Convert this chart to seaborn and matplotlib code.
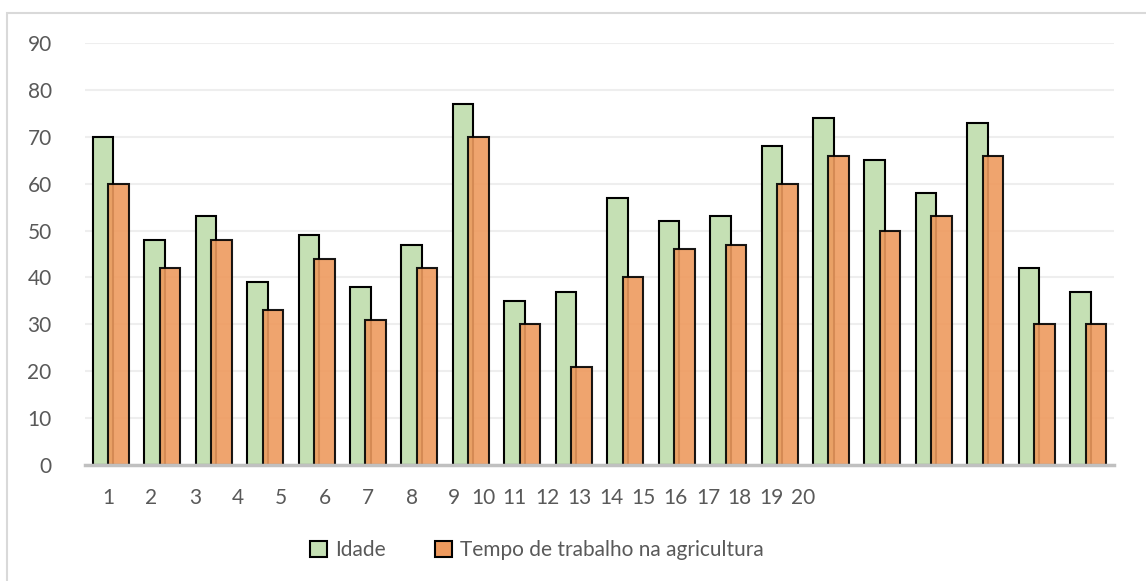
import matplotlib
matplotlib.use("Agg")
import matplotlib.pyplot as plt
import matplotlib.patches as mpatches
import numpy as np
import pandas as pd
import seaborn as sns

# Respondent ages and years of farm work
respondentes = [str(i) for i in range(1, 21)]
idade = [70, 48, 53, 39, 49, 38, 47, 77, 35, 37, 57, 52, 53, 68, 74, 65, 58, 73, 42, 37]
tempo_trabalho = [60, 42, 48, 33, 44, 31, 42, 70, 30, 21, 40, 46, 47, 60, 66, 50, 53, 66, 30, 30]
series_names = ["Idade", "Tempo de trabalho na agricultura"]
y_ticks = [0, 10, 20, 30, 40, 50, 60, 70, 80, 90]

sns.set_theme(style="white")
plt.rcParams["font.family"] = ["Lato", "DejaVu Sans"]

W, H = 1146, 581
fig = plt.figure(figsize=(W / 100, H / 100), dpi=100)
ax_left, ax_right, ax_bottom, ax_top = 85, 1114, 465, 43
ax = fig.add_axes([ax_left / W, 1 - ax_bottom / H,
                   (ax_right - ax_left) / W, (ax_bottom - ax_top) / H])

green = "#C5E0B4"
orange = "#EE9A5E"
text_color = "#595959"
pos = np.arange(len(respondentes))

df_idade = pd.DataFrame({"x": pos - 0.15, "v": idade})
df_tempo = pd.DataFrame({"x": pos + 0.15, "v": tempo_trabalho})

sns.barplot(data=df_idade, x="x", y="v", native_scale=True, width=0.4,
            color=green, saturation=1, edgecolor="black", linewidth=1.5,
            ax=ax, zorder=2)
sns.barplot(data=df_tempo, x="x", y="v", native_scale=True, width=0.4,
            color=orange, saturation=1, edgecolor="black", linewidth=1.5,
            alpha=0.9, ax=ax, zorder=3)
# keep the edge opaque on the front series
for p in ax.patches[len(idade):]:
    p.set_edgecolor((0, 0, 0, 1))

ax.set_xlim(-0.5, len(respondentes) - 0.5)
ax.set_ylim(0, 90)
ax.set_yticks(y_ticks)
ax.set_yticklabels([str(t) for t in y_ticks], fontsize=15, color=text_color)
ax.tick_params(axis="y", length=0, pad=24)
ax.set_xticks([])
ax.set_xlabel("")
ax.set_ylabel("")
ax.grid(axis="y", color="#EEEEEE", linewidth=1.5, zorder=0)
ax.set_axisbelow(True)
for s in ["top", "right", "left"]:
    ax.spines[s].set_visible(False)
ax.spines["bottom"].set_color("#C0C0C0")
ax.spines["bottom"].set_linewidth(2.5)
ax.spines["bottom"].set_zorder(4)

# category labels along the bottom, in figure pixels
label_px = [108, 151, 195, 238, 281, 325, 368, 412, 454, 483,
            514, 547, 579, 611, 643, 675, 708, 739, 771, 803]
for lab, px in zip(respondentes, label_px):
    fig.text(px / W, 1 - 498 / H, lab, ha="center", va="center",
             fontsize=15, color=text_color)

# outer chart frame
frame = mpatches.Rectangle((7 / W, -0.1), 1.2, 1 - 13 / H + 0.1,
                           transform=fig.transFigure, fill=False,
                           edgecolor="#D9D9D9", linewidth=1.5)
fig.patches.append(frame)

handles = [mpatches.Patch(facecolor=green, edgecolor="black", linewidth=1.5),
           mpatches.Patch(facecolor=orange, edgecolor="black", linewidth=1.5)]
fig.legend(handles, series_names, loc="center", bbox_to_anchor=(537 / W, 1 - 550 / H),
           ncol=2, frameon=False, fontsize=15, labelcolor=text_color,
           handlelength=0.8, handleheight=0.8, handletextpad=0.4, columnspacing=2.35)

fig.savefig("out.png", dpi=100)
